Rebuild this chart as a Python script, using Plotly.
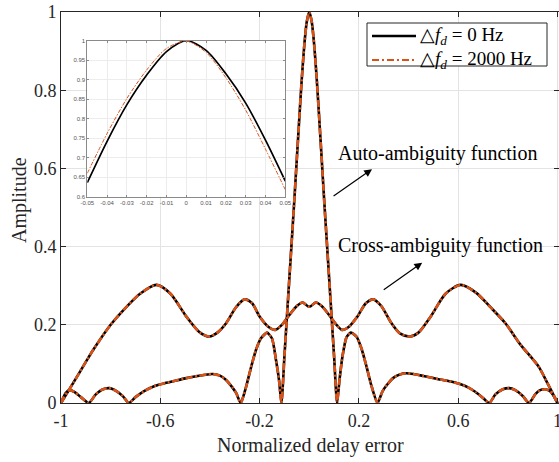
import plotly.graph_objects as go

# ---------------- data ----------------
x_ticks = [-1, -0.6, -0.2, 0.2, 0.6, 1]
x_tick_labels = ["-1", "-0.6", "-0.2", "0.2", "0.6", "1"]
y_ticks = [0, 0.2, 0.4, 0.6, 0.8, 1]
y_tick_labels = ["0", "0.2", "0.4", "0.6", "0.8", "1"]

# auto-ambiguity function (main lobe + sidelobes)
auto_x = [-1.0, -0.982, -0.965, -0.945, -0.92, -0.888, -0.86, -0.835, -0.806, -0.775, -0.75, -0.727,
          -0.70, -0.66, -0.62, -0.58, -0.54, -0.50, -0.45, -0.41, -0.39, -0.36, -0.335, -0.31, -0.294, -0.276,
          -0.255, -0.235, -0.215, -0.195, -0.17, -0.15, -0.134, -0.122, -0.112,
          -0.10, -0.09, -0.08, -0.07, -0.06, -0.05, -0.04, -0.03, -0.02, -0.01, 0.0,
          0.01, 0.02, 0.03, 0.04, 0.05, 0.06, 0.07, 0.08, 0.09, 0.10,
          0.112, 0.122, 0.134, 0.15, 0.168, 0.19, 0.21, 0.23, 0.25, 0.275,
          0.295, 0.315, 0.34, 0.365, 0.39, 0.42, 0.46, 0.52, 0.56, 0.604, 0.64, 0.67, 0.70, 0.725,
          0.75, 0.78, 0.805, 0.83, 0.86, 0.885, 0.91, 0.93, 0.951, 0.97, 0.985, 1.0]
auto_y = [0.0, 0.025, 0.033, 0.028, 0.015, 0.0, 0.022, 0.034, 0.038, 0.030, 0.017, 0.0,
          0.015, 0.032, 0.044, 0.051, 0.057, 0.063, 0.069, 0.073, 0.074, 0.070, 0.059, 0.040, 0.025, 0.0,
          0.040, 0.090, 0.135, 0.165, 0.180, 0.165, 0.110, 0.060, 0.0,
          0.12, 0.22, 0.32, 0.42, 0.52, 0.625, 0.73, 0.83, 0.915, 0.975, 1.0,
          0.975, 0.915, 0.83, 0.73, 0.625, 0.52, 0.42, 0.32, 0.22, 0.12,
          0.0, 0.060, 0.120, 0.168, 0.180, 0.170, 0.140, 0.095, 0.045, 0.0,
          0.030, 0.048, 0.065, 0.073, 0.076, 0.074, 0.069, 0.061, 0.056, 0.049, 0.040, 0.028, 0.013, 0.0,
          0.022, 0.035, 0.038, 0.033, 0.018, 0.0, 0.022, 0.033, 0.035, 0.030, 0.018, 0.0]

# cross-ambiguity function
cross_x = [-1.0, -0.95, -0.9, -0.87, -0.8, -0.736, -0.68, -0.616, -0.56, -0.495, -0.44, -0.402, -0.37,
           -0.335, -0.295, -0.261, -0.23, -0.2, -0.165, -0.137, -0.11, -0.08, -0.05, -0.027, 0.0,
           0.027, 0.05, 0.08, 0.11, 0.132, 0.16, 0.195, 0.228, 0.258, 0.29, 0.33, 0.365, 0.405,
           0.44, 0.49, 0.55, 0.61, 0.67, 0.73, 0.79, 0.85, 0.924, 0.96, 1.0]
cross_y = [0.0, 0.052, 0.105, 0.136, 0.200, 0.246, 0.280, 0.302, 0.280, 0.221, 0.180, 0.170, 0.180,
           0.204, 0.245, 0.265, 0.255, 0.221, 0.195, 0.187, 0.200, 0.225, 0.248, 0.257, 0.246,
           0.257, 0.248, 0.225, 0.200, 0.187, 0.195, 0.222, 0.255, 0.265, 0.248, 0.205, 0.178, 0.170,
           0.180, 0.222, 0.280, 0.302, 0.283, 0.245, 0.204, 0.150, 0.093, 0.050, 0.0]

# inset (zoom of main lobe)
inset_x = [-0.05, -0.04, -0.03, -0.02, -0.01, 0.0, 0.01, 0.02, 0.03, 0.04, 0.05]
inset_y_0hz = [0.636, 0.742, 0.836, 0.912, 0.972, 1.0, 0.975, 0.915, 0.840, 0.745, 0.640]
inset_y_2000hz = [0.660, 0.762, 0.852, 0.925, 0.980, 0.999, 0.970, 0.905, 0.822, 0.722, 0.618]
inset_x_ticks = [-0.05, -0.04, -0.03, -0.02, -0.01, 0, 0.01, 0.02, 0.03, 0.04, 0.05]
inset_x_labels = ["-0.05", "-0.04", "-0.03", "-0.02", "-0.01", "0", "0.01", "0.02", "0.03", "0.04", "0.05"]
inset_y_ticks = [0.6, 0.65, 0.7, 0.75, 0.8, 0.85, 0.9, 0.95, 1.0]
inset_y_labels = ["0.6", "0.65", "0.7", "0.75", "0.8", "0.85", "0.9", "0.95", "1"]

legend_labels = ["△<i>f<sub>d</sub></i> = 0 Hz", "△<i>f<sub>d</sub></i> = 2000 Hz"]

BLACK = "#000000"
ORANGE = "#D95319"
SERIF = "Liberation Serif, Times New Roman, serif"
SANS = "Liberation Sans, Arial, sans-serif"
AX = "#262626"
DASH_MAIN = "7px,2.5px,2px,2.5px"

# plot-area geometry (pixels) used to place the hand-drawn legend and titles
W, H = 559, 462
ML, MR, MT, MB = 61, 0, 12, 59
PW, PH = W - ML - MR, H - MT - MB


def px_to_paper(px, py):
    return (px - ML) / PW, (H - MB - py) / PH


fig = go.Figure()

# main traces: black solid underneath, orange dash-dot on top
fig.add_trace(go.Scatter(x=auto_x, y=auto_y, mode="lines", name=legend_labels[0], showlegend=False,
                         line=dict(color=BLACK, width=2.6, shape="spline", smoothing=0.6)))
fig.add_trace(go.Scatter(x=cross_x, y=cross_y, mode="lines", name=legend_labels[0], showlegend=False,
                         line=dict(color=BLACK, width=2.6, shape="spline", smoothing=0.8)))
fig.add_trace(go.Scatter(x=auto_x, y=auto_y, mode="lines", name=legend_labels[1], showlegend=False,
                         line=dict(color=ORANGE, width=2.6, dash=DASH_MAIN, shape="spline", smoothing=0.6)))
fig.add_trace(go.Scatter(x=cross_x, y=cross_y, mode="lines", name=legend_labels[1], showlegend=False,
                         line=dict(color=ORANGE, width=2.6, dash=DASH_MAIN, shape="spline", smoothing=0.8)))

# inset traces
fig.add_trace(go.Scatter(x=inset_x, y=inset_y_0hz, mode="lines", showlegend=False, xaxis="x2", yaxis="y2",
                         line=dict(color=BLACK, width=1.7, shape="spline", smoothing=0.8)))
fig.add_trace(go.Scatter(x=inset_x, y=inset_y_2000hz, mode="lines", showlegend=False, xaxis="x2", yaxis="y2",
                         line=dict(color=ORANGE, width=1.0, dash="4px,1.5px,1.5px,1.5px",
                                   shape="spline", smoothing=0.8)))

fig.update_layout(
    width=W, height=H,
    margin=dict(l=ML, r=MR, t=MT, b=MB),
    paper_bgcolor="white", plot_bgcolor="white",
    font=dict(family=SERIF, size=18, color=AX),
    showlegend=False,
    xaxis=dict(range=[-1, 1.006], tickvals=x_ticks, ticktext=x_tick_labels, automargin=False,
               showgrid=True, gridcolor="#e3e3e3", gridwidth=1, zeroline=False,
               showline=True, linecolor=AX, linewidth=1, mirror="allticks",
               ticks="inside", ticklen=5, tickcolor=AX, ticklabelstandoff=1,
               ticklabeloverflow="allow",
               tickfont=dict(family=SERIF, size=18, color=AX)),
    yaxis=dict(range=[0, 1], tickvals=y_ticks, ticktext=y_tick_labels, automargin=False,
               showgrid=True, gridcolor="#e3e3e3", gridwidth=1, zeroline=False,
               showline=True, linecolor=AX, linewidth=1, mirror="allticks",
               ticks="inside", ticklen=5, tickcolor=AX,
               tickfont=dict(family=SERIF, size=18, color=AX)),
    xaxis2=dict(domain=[0.0528, 0.4504], anchor="y2", range=[-0.05, 0.05], automargin=False,
                tickvals=inset_x_ticks, ticktext=inset_x_labels,
                showgrid=True, gridcolor="#ececec", zeroline=False,
                showline=True, linecolor="#8a8a8a", linewidth=1, mirror="allticks",
                ticks="inside", ticklen=2, tickcolor="#8a8a8a",
                tickfont=dict(family=SANS, size=6, color="#555555")),
    yaxis2=dict(domain=[0.5276, 0.9266], anchor="x2", range=[0.6, 1.0], automargin=False,
                tickvals=inset_y_ticks, ticktext=inset_y_labels,
                showgrid=True, gridcolor="#ececec", zeroline=False,
                showline=True, linecolor="#8a8a8a", linewidth=1, mirror="allticks",
                ticks="inside", ticklen=2, tickcolor="#8a8a8a",
                tickfont=dict(family=SANS, size=6, color="#555555")),
)

# legend drawn by hand (box, line samples, labels)
bx0, by0 = px_to_paper(367, 66)
bx1, by1 = px_to_paper(547, 23)
l0x0, l0y = px_to_paper(372, 36)
l0x1, _ = px_to_paper(416, 36)
l1x0, l1y = px_to_paper(372, 60)
l1x1, _ = px_to_paper(416, 60)
tx, _ = px_to_paper(418, 0)

shapes = [
    dict(type="rect", xref="paper", yref="paper", x0=bx0, y0=by0, x1=bx1, y1=by1,
         line=dict(color=AX, width=1), fillcolor="white", layer="above"),
    dict(type="line", xref="paper", yref="paper", x0=l0x0, y0=l0y, x1=l0x1, y1=l0y,
         line=dict(color=BLACK, width=2.6), layer="above"),
    dict(type="line", xref="paper", yref="paper", x0=l1x0, y0=l1y, x1=l1x1, y1=l1y,
         line=dict(color=ORANGE, width=2.2, dash="7px,3px,2px,3px"), layer="above"),
]

ax_title_x_y = (H - MB - 445) / PH
ax_title_y_x = (20 - ML) / PW
ax_title_y_y = (H - MB - 200) / PH

annotations = [
    dict(text=legend_labels[0], x=tx, y=l0y, xref="paper", yref="paper", xanchor="left", yanchor="middle",
         showarrow=False, font=dict(family=SERIF, size=19, color="#000")),
    dict(text=legend_labels[1], x=tx, y=l1y, xref="paper", yref="paper", xanchor="left", yanchor="middle",
         showarrow=False, font=dict(family=SERIF, size=19, color="#000")),
    dict(text="Normalized delay error", x=0.5, y=ax_title_x_y, xref="paper", yref="paper",
         xanchor="center", yanchor="middle", showarrow=False,
         font=dict(family=SERIF, size=20, color=AX)),
    dict(text="Amplitude", x=ax_title_y_x, y=ax_title_y_y, xref="paper", yref="paper", textangle=-90,
         xanchor="center", yanchor="middle", showarrow=False,
         font=dict(family=SERIF, size=20, color=AX)),
    dict(text="Auto-ambiguity function", x=0.108, y=0.639, xref="x", yref="y",
         xanchor="left", yanchor="middle", showarrow=False,
         font=dict(family=SERIF, size=20, color="#000")),
    dict(text="Cross-ambiguity function", x=0.108, y=0.404, xref="x", yref="y",
         xanchor="left", yanchor="middle", showarrow=False,
         font=dict(family=SERIF, size=20, color="#000")),
    dict(text="", x=0.253, y=0.598, ax=0.092, ay=0.527, xref="x", yref="y", axref="x", ayref="y",
         showarrow=True, arrowhead=2, arrowsize=1.3, arrowwidth=1.2, arrowcolor="#000"),
    dict(text="", x=0.455, y=0.359, ax=0.294, ay=0.287, xref="x", yref="y", axref="x", ayref="y",
         showarrow=True, arrowhead=2, arrowsize=1.3, arrowwidth=1.2, arrowcolor="#000"),
]
fig.update_layout(annotations=annotations, shapes=shapes)

# remove the browser's default page margin so the figure sits at the window origin
fig.write_html("out.html", config={"displayModeBar": False},
               post_script="document.body.style.margin='0';document.body.style.overflow='hidden';")
